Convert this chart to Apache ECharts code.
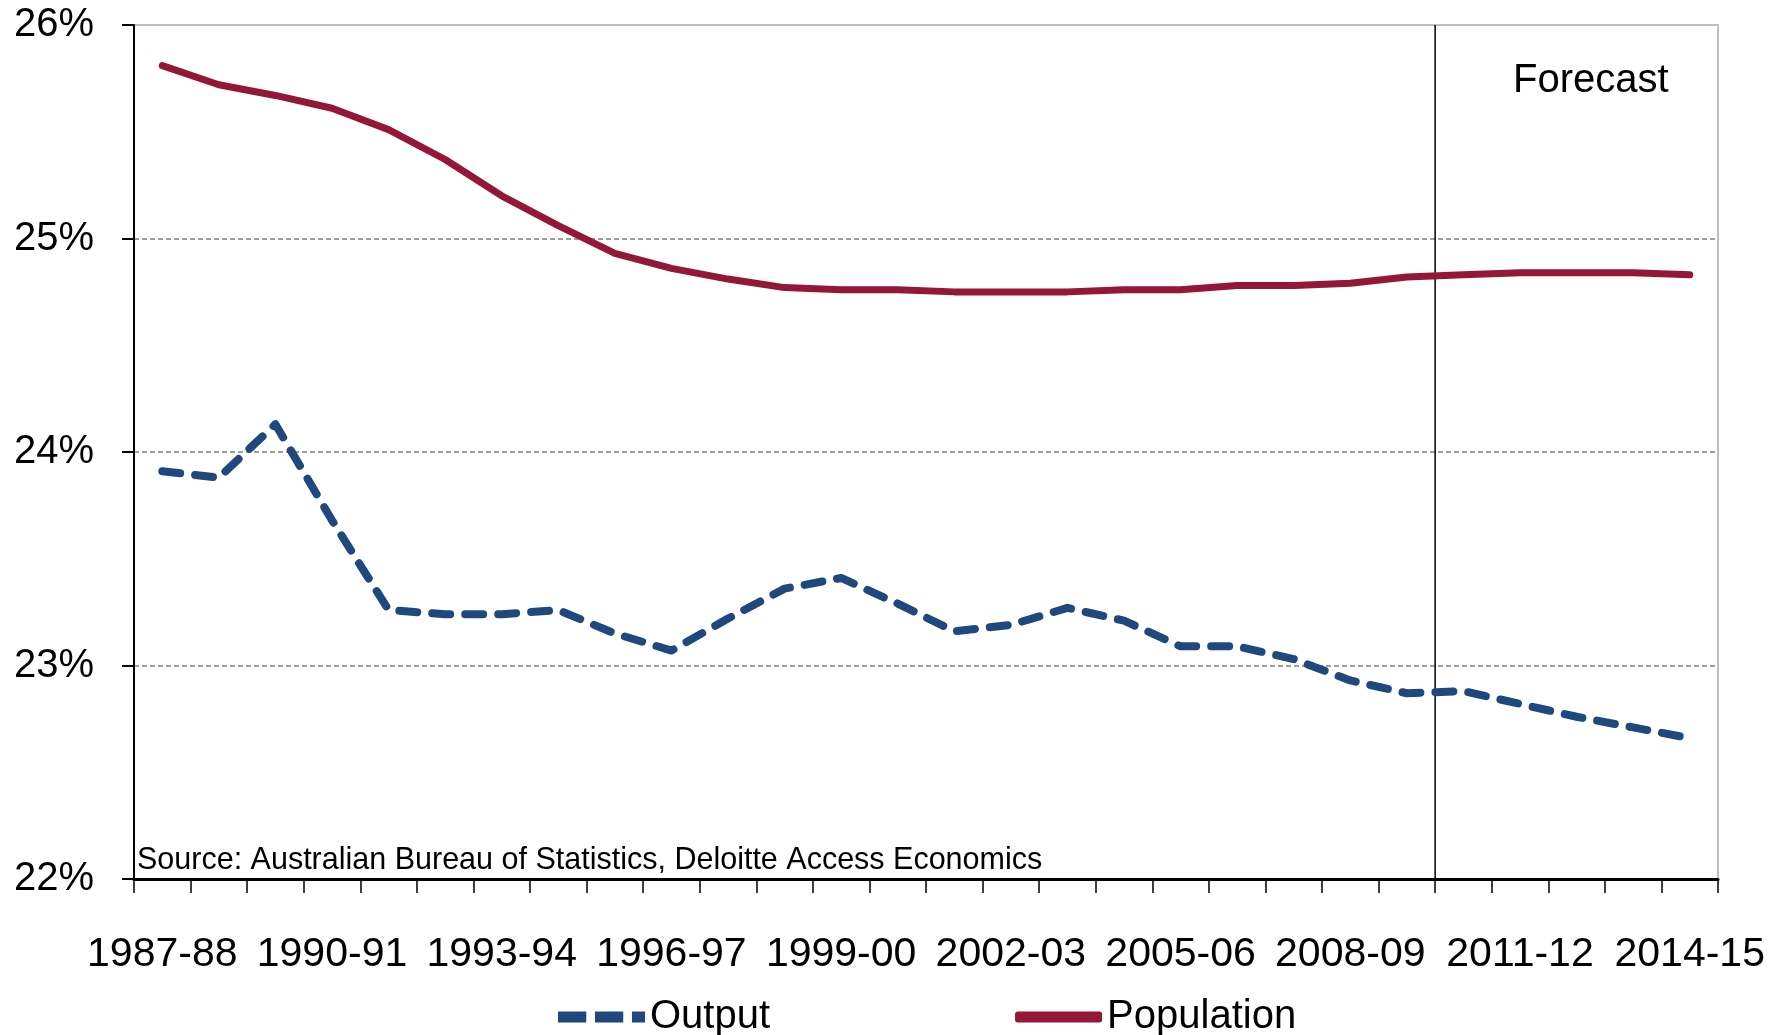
<!DOCTYPE html>
<html>
<head>
<meta charset="utf-8">
<script src="https://cdn.jsdelivr.net/npm/echarts@6/dist/echarts.min.js"></script>
<style>
    html, body { margin: 0; padding: 0; background: #fff; }
    #shareChart { width: 1780px; height: 1035px; }
</style>
</head>
<body>
<div id="shareChart"></div>
<script>
// Share of national output and population
const categories = ['1987-88', '1988-89', '1989-90', '1990-91', '1991-92', '1992-93', '1993-94',
    '1994-95', '1995-96', '1996-97', '1997-98', '1998-99', '1999-00', '2000-01', '2001-02',
    '2002-03', '2003-04', '2004-05', '2005-06', '2006-07', '2007-08', '2008-09', '2009-10',
    '2010-11', '2011-12', '2012-13', '2013-14', '2014-15']
const outputShare = [23.91, 23.88, 24.13, 23.68, 23.26, 23.24, 23.24, 23.26, 23.15, 23.07,
    23.22, 23.36, 23.41, 23.29, 23.16, 23.19, 23.27, 23.21, 23.09, 23.09,
    23.03, 22.93, 22.87, 22.88, 22.82, 22.76, 22.71, 22.66]
const populationShare = [25.81, 25.72, 25.67, 25.61, 25.51, 25.37, 25.20, 25.06, 24.93, 24.86,
    24.81, 24.77, 24.76, 24.76, 24.75, 24.75, 24.75, 24.76, 24.76, 24.78,
    24.78, 24.79, 24.82, 24.83, 24.84, 24.84, 24.84, 24.83]
const yTicks = [22, 23, 24, 25, 26]
const forecastFrom = '2010-11'
const sourceNote = 'Source: Australian Bureau of Statistics, Deloitte Access Economics'

const fontFamily = '"Liberation Sans", Arial, sans-serif'
let chart = echarts.init(document.getElementById('shareChart'))
let forecastIdx = categories.indexOf(forecastFrom) // 预测线在类目边界上

let option = {
    animation: false,
    backgroundColor: '#fff',
    textStyle: { fontFamily: fontFamily, color: '#000' },
    grid: {
        left: 134, top: 25, right: 62, bottom: 156,
        show: true, borderColor: '#c0c0c0', borderWidth: 2
    },
    legend: {
        left: 553, top: 992,
        itemWidth: 87, itemHeight: 11, itemGap: 245,
        data: [
            { name: 'Output', icon: 'path://M0,0h26v10h-26z M34,0h26v10h-26z M68,0h12v10h-12z' },
            { name: 'Population', icon: 'roundRect' }
        ],
        textStyle: { fontSize: 40, color: '#000', fontFamily: fontFamily }
    },
    xAxis: [{
        type: 'category',
        data: categories,
        boundaryGap: true,
        axisLine: { lineStyle: { color: '#000', width: 3 } },
        axisTick: { show: true, interval: 0, length: 14, lineStyle: { color: '#000', width: 1.5 } },
        axisLabel: { interval: 2, margin: 55, fontSize: 41, color: '#000' },
        splitLine: { show: false }
    }, {
        type: 'value',
        min: 0,
        max: categories.length,
        show: false
    }],
    yAxis: {
        type: 'value',
        min: yTicks[0],
        max: yTicks[yTicks.length - 1],
        interval: 1,
        axisLine: { show: true, lineStyle: { color: '#000', width: 2 } },
        axisTick: { show: true, length: 12, lineStyle: { color: '#000', width: 2 } },
        axisLabel: { margin: 40, fontSize: 40, color: '#000', formatter: '{value}%' },
        splitLine: {
            show: true, showMaxLine: false,
            lineStyle: { color: '#808080', width: 1.5, type: [5, 3] }
        }
    },
    series: [{
        name: 'Output',
        type: 'line',
        data: outputShare,
        symbol: 'none',
        z: 3,
        lineStyle: { color: '#1f497d', width: 8, type: [18, 15], cap: 'round', join: 'round' },
        itemStyle: { color: '#1f497d' }
    }, {
        name: 'Population',
        type: 'line',
        data: populationShare,
        symbol: 'none',
        z: 3,
        lineStyle: { color: '#941638', width: 7, cap: 'round', join: 'round' },
        itemStyle: { color: '#941638' }
    }, {
        // forecast divider
        type: 'line',
        xAxisIndex: 1,
        data: [[forecastIdx, yTicks[0]], [forecastIdx, yTicks[yTicks.length - 1]]],
        symbol: 'none',
        silent: true,
        z: 2,
        lineStyle: { color: '#000', width: 1.5 }
    }],
    graphic: [{
        type: 'text',
        left: 1513, top: 61,
        style: { text: 'Forecast', font: '40px ' + fontFamily, fill: '#000' }
    }, {
        type: 'text',
        left: 137, top: 845,
        style: { text: sourceNote, font: '30.5px ' + fontFamily, fill: '#000' }
    }]
}
chart.setOption(option)
</script>
</body>
</html>
